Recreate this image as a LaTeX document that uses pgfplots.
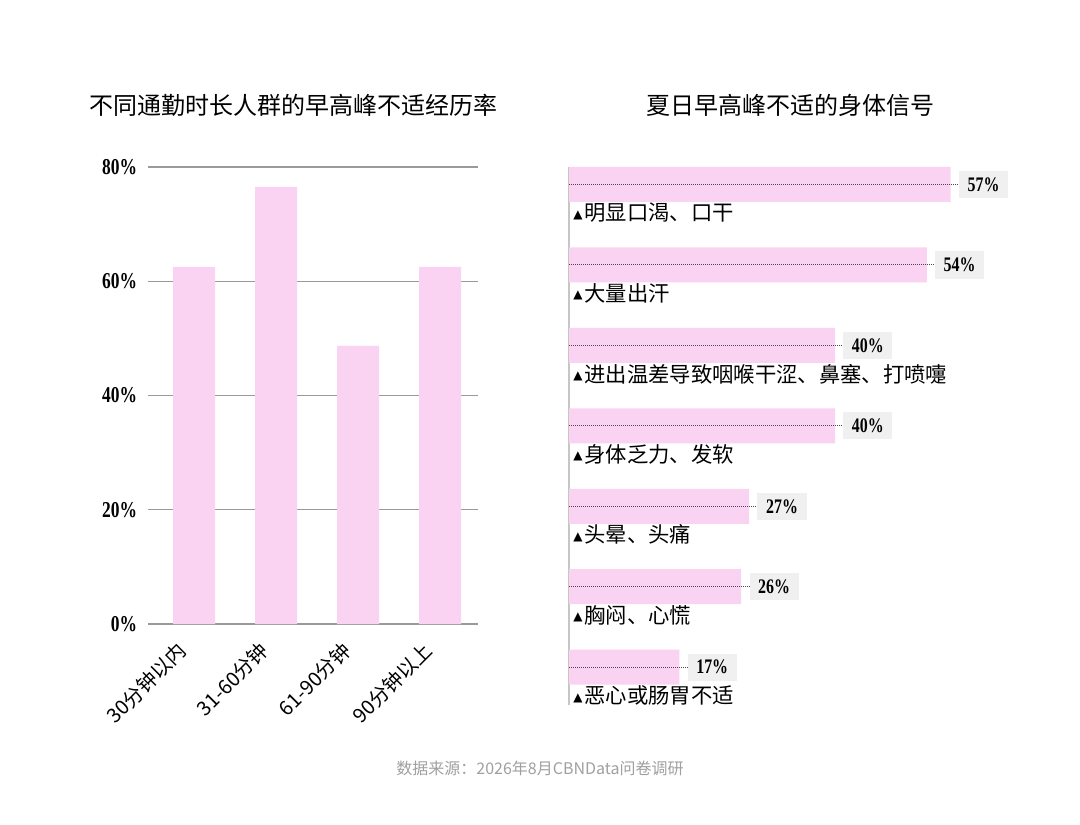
\documentclass[border=0pt]{standalone}
\usepackage{graphicx}
\usepackage{pgfplots}
\pgfplotsset{compat=1.18}
\usepackage{fontspec}
\setmainfont{Noto Sans CJK SC}
\newfontfamily\numfont{Liberation Serif}
\newfontfamily\symfont{DejaVu Sans}
\definecolor{barpink}{HTML}{F9D3F1}
\definecolor{gridgray}{HTML}{9A9A9A}
\definecolor{boxgray}{HTML}{F0F0F0}
\definecolor{footgray}{HTML}{A0A0A0}
\definecolor{dotgray}{HTML}{4A4A4A}
\newcommand{\numf}[1]{{\numfont\bfseries\scalebox{0.77}[1]{#1}}}
\newcommand{\tri}{{\symfont\fontsize{9}{9}\selectfont\raisebox{2pt}{▲}}\hspace{1.5pt}}
\pgfplotsset{dotline/.style={dotgray, line width=0.65pt, dash pattern=on 0.75pt off 0.75pt, forget plot}}
\begin{document}
\begin{tikzpicture}
\path[fill=white] (0,0) rectangle (810pt,618pt);
\node[font=\fontsize{18}{18}\selectfont] at (219.75pt,539.25pt) {不同通勤时长人群的早高峰不适经历率};
\node[font=\fontsize{18}{18}\selectfont] at (592.5pt,539.25pt) {夏日早高峰不适的身体信号};
\node[font=\fontsize{12}{12}\selectfont, text=footgray] at (405pt,42pt) {数据来源：2026年8月CBNData问卷调研};

\begin{axis}[
  at={(111pt,150pt)}, anchor=south west,
  scale only axis, width=247.5pt, height=342.75pt,
  xmin=-0.561, xmax=3.463, ymin=0, ymax=80,
  axis line style={draw=none},
  tick style={draw=none},
  ymajorgrids, grid style={gridgray, line width=1.1pt},
  ytick={0,20,40,60,80},
  yticklabels={\numf{0\%},\numf{20\%},\numf{40\%},\numf{60\%},\numf{80\%}},
  yticklabel style={font=\fontsize{17}{17}\selectfont, inner sep=0pt, xshift=-8pt},
  xtick={0,1,2,3},
  xticklabels={30分钟以内,31-60分钟,61-90分钟,90分钟以上},
  xticklabel style={rotate=45, anchor=east, font=\fontsize{15}{15}\selectfont, inner sep=0pt, yshift=-6.3pt, xshift=-18pt},
]
\addplot[ybar, bar width=31.5pt, fill=barpink, draw=none] coordinates {(0,62.5) (1,76.5) (2,48.7) (3,62.5)};
\end{axis}

\begin{axis}[
  at={(426.75pt,89.25pt)}, anchor=south west,
  scale only axis, width=300pt, height=403.5pt,
  xmin=0, xmax=60.15, ymin=-0.217, ymax=6.47, y dir=reverse,
  axis x line=none, axis y line=left,
  y axis line style={-, draw=gray!45, line width=1.5pt},
  ytick=\empty, xtick=\empty,
  clip=false,
]
\addplot[xbar, bar width=26.25pt, fill=barpink, draw=none, point meta=x,
  nodes near coords={\numf{\pgfmathprintnumber[fixed,precision=0,assume math mode=true]{\pgfplotspointmeta}\%}},
  nodes near coords style={anchor=west, xshift=6pt, fill=boxgray, font=\fontsize{15.5}{15.5}\selectfont, inner xsep=6.5pt, inner ysep=0pt, minimum height=20.5pt, text=black},
] coordinates {(57.4,0) (53.8,1) (40,2) (40,3) (27.1,4) (25.9,5) (16.6,6)};
\addplot[dotline] coordinates {(0,0) (58.6,0)};
\addplot[dotline] coordinates {(0,1) (55.0,1)};
\addplot[dotline] coordinates {(0,2) (41.2,2)};
\addplot[dotline] coordinates {(0,3) (41.2,3)};
\addplot[dotline] coordinates {(0,4) (28.3,4)};
\addplot[dotline] coordinates {(0,5) (27.1,5)};
\addplot[dotline] coordinates {(0,6) (17.8,6)};
\begin{scope}[every node/.style={anchor=west, font=\fontsize{16}{16}\selectfont, inner sep=0pt, xshift=3pt, yshift=-21.4pt}]
\node at (axis cs:0,0) {\tri 明显口渴、口干};
\node at (axis cs:0,1) {\tri 大量出汗};
\node at (axis cs:0,2) {\tri 进出温差导致咽喉干涩、鼻塞、打喷嚏};
\node at (axis cs:0,3) {\tri 身体乏力、发软};
\node at (axis cs:0,4) {\tri 头晕、头痛};
\node at (axis cs:0,5) {\tri 胸闷、心慌};
\node at (axis cs:0,6) {\tri 恶心或肠胃不适};
\end{scope}
\end{axis}
\end{tikzpicture}
\end{document}
